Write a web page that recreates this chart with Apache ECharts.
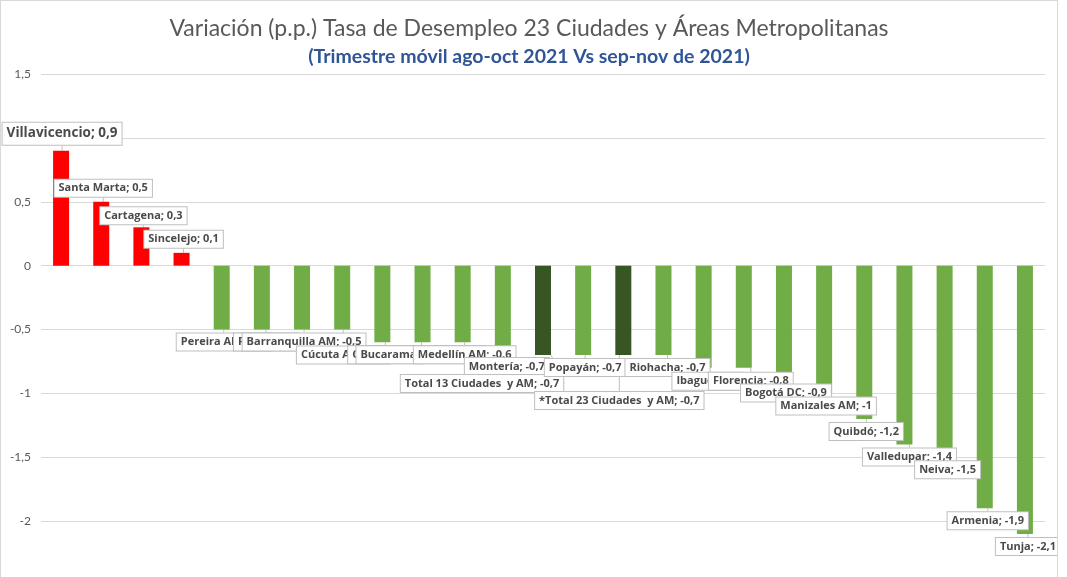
<!DOCTYPE html>
<html lang="es">
<head>
    <meta charset="UTF-8">
    <title>Variación Tasa de Desempleo</title>
    <style>
        html, body { margin: 0; padding: 0; background: #fff; overflow: hidden; }
        #main {
            position: absolute;
            left: 0;
            top: 0;
            width: 1056px;
            height: 600px;
            border: 1px solid #d9d9d9;
        }
    </style>
    <script src="https://cdn.jsdelivr.net/npm/echarts@6/dist/echarts.min.js"></script>
</head>
<body>

<div id="main"></div>

<script>
    // ciudades ordenadas de mayor a menor variacion
    var ciudades = [
        'Villavicencio', 'Santa Marta', 'Cartagena', 'Sincelejo',
        'Pereira AM', 'Pasto', 'Barranquilla AM', 'Cúcuta AM', 'Cali AM',
        'Bucaramanga AM', 'Medellín AM', 'Montería', 'Total 13 Ciudades  y AM',
        'Popayán', '*Total 23 Ciudades  y AM', 'Riohacha', 'Ibagué', 'Florencia',
        'Bogotá DC', 'Manizales AM', 'Quibdó', 'Valledupar', 'Neiva', 'Armenia', 'Tunja'
    ];
    var variacion = [
        0.9, 0.5, 0.3, 0.1,
        -0.5, -0.5, -0.5, -0.5, -0.6,
        -0.6, -0.6, -0.7, -0.7,
        -0.7, -0.7, -0.7, -0.8, -0.8,
        -0.9, -1, -1.2, -1.4, -1.5, -1.9, -2.1
    ];

    // desplazamiento extra de cada etiqueta (como se movieron a mano en excel)
    var labelShift = [
        [-1, -2], [0, -1], [0, 1], [0, -1],
        [0, 0], [2, 0], [0, 0], [-1, 13], [1, 0],
        [-3, 0], [0, 0], [2, -1], [-63, 16],
        [0, 0], [-6, 33], [2, 0], [2, 1], [5, 1],
        [0, 0], [0, 0], [0, 0], [3, 0], [1, 0], [1, 0], [1, 0]
    ];

    var rojo = '#ff0000', verde = '#70ad47', verdeOscuro = '#375623';

    function coma(v) {
        return String(v).replace('.', ',');
    }

    var datos = variacion.map(function (v, i) {
        var color = v > 0 ? rojo : (ciudades[i].indexOf('Total') >= 0 ? verdeOscuro : verde);
        var item = { value: v, name: ciudades[i], itemStyle: { color: color } };
        if (i === 0) item.label = { fontSize: 13.5, padding: [4, 4] };
        return item;
    });

    var chartDom = document.getElementById('main');
    var myChart = echarts.init(chartDom);
    var option;

    option = {
        animation: false,
        textStyle: { fontFamily: 'Lato' },
        title: [
            {
                text: 'Variación (p.p.) Tasa de Desempleo 23 Ciudades y Áreas Metropolitanas',
                left: 'center',
                top: 11,
                textStyle: { color: '#595959', fontSize: 23, fontWeight: 'normal', fontFamily: 'Lato' }
            },
            {
                text: '(Trimestre móvil ago-oct 2021 Vs sep-nov de 2021)',
                left: 'center',
                top: 41,
                textStyle: { color: '#2f5597', fontSize: 19.5, fontWeight: 'bold', fontFamily: 'Lato' }
            }
        ],
        grid: {
            left: 40,
            right: 12,
            top: 73,
            height: 511
        },
        xAxis: {
            type: 'category',
            data: ciudades,
            axisLine: { show: false },
            axisTick: { show: false },
            axisLabel: { show: false }
        },
        yAxis: {
            type: 'value',
            min: -2.5,
            max: 1.5,
            interval: 0.5,
            axisLine: { show: false },
            axisTick: { show: false },
            axisLabel: {
                color: '#595959',
                fontSize: 12,
                margin: 10,
                formatter: function (v) { return coma(v); }
            },
            splitLine: { lineStyle: { color: '#d9d9d9', width: 1 } }
        },
        series: [
            {
                type: 'bar',
                barWidth: 16,
                data: datos,
                label: {
                    show: true,
                    position: 'top',
                    color: '#4a4a4a',
                    fontSize: 11,
                    fontWeight: 'bold',
                    fontFamily: 'Open Sans',
                    backgroundColor: '#fff',
                    borderColor: '#bfbfbf',
                    borderWidth: 1,
                    padding: [3, 4],
                    formatter: function (p) {
                        return p.name + '; ' + coma(p.value);
                    }
                },
                labelLine: {
                    show: true,
                    lineStyle: { color: '#bfbfbf', width: 1 }
                },
                labelLayout: function (p) {
                    var i = p.dataIndex, v = variacion[i];
                    var r = p.rect;
                    var cx = r.x + r.width / 2;
                    var top = Math.min(r.y, r.y + r.height);
                    var bot = Math.max(r.y, r.y + r.height);
                    var h = bot - top;
                    var end = v >= 0 ? top : bot;
                    var s = labelShift[i];
                    var lw = p.labelRect.width, lh = p.labelRect.height;
                    var x = cx + 2 + s[0];
                    var y = v >= 0 ? end - lh / 2 - 3 + s[1] : end + lh / 2 + 3 + s[1];
                    var inset = h > 30 ? 20 : 0;
                    var tipY = v >= 0 ? end + inset : end - inset;
                    var edgeY = v >= 0 ? y + lh / 2 : y - lh / 2;
                    var left = x - lw / 2 + 4, right = x + lw / 2 - 4;
                    var a = Math.max(left, Math.min(right, cx - 28));
                    var b = Math.max(left, Math.min(right, cx - 8));
                    return {
                        x: x,
                        y: y,
                        align: 'center',
                        verticalAlign: 'middle',
                        labelLinePoints: [[a, edgeY], [cx, tipY], [b, edgeY]]
                    };
                }
            }
        ]
    };

    option && myChart.setOption(option);
</script>

</body>
</html>
